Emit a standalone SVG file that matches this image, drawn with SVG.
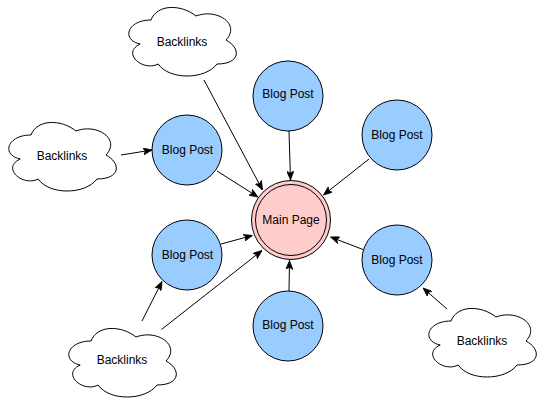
<svg xmlns="http://www.w3.org/2000/svg" xmlns:xlink="http://www.w3.org/1999/xlink" width="543" height="409" viewBox="0 0 543 409">
  <style>
    .cloud { fill: #ffffff; stroke: #000000; stroke-width: 1; }
    .post { fill: #99ccff; stroke: #000000; stroke-width: 1; }
    .main { fill: #ffcccc; stroke: #000000; stroke-width: 1; }
    .lbl { font-family: "Liberation Sans", Arial, Helvetica, sans-serif; font-size: 12px; fill: #000000; text-anchor: middle; }
    .edge { fill: none; stroke: #000000; stroke-width: 1; marker-end: url(#arrow); }
  </style>
  <defs>
    <marker id="arrow" viewBox="0 0 10 8" refX="10" refY="4" markerWidth="9" markerHeight="7.2" markerUnits="userSpaceOnUse" orient="auto">
      <path d="M0,0 L10,4 L0,8 L2.5,4 Z" fill="#000000" stroke="#000000" stroke-width="0.8"/>
    </marker>
    <path id="cloudShape" d="M30,20 C6,20 0,40 19.2,44 C0,52.8 21.6,72 37.2,64 C48,80 84,80 96,64 C120,64 120,48 105,40 C120,24 96,8 75,16 C60,4 36,4 30,20 Z"/>
  </defs>
  <rect x="0" y="0" width="543" height="409" fill="#ffffff"/>

  <g id="connectors">
    <line class="edge" x1="204" y1="80" x2="262.5" y2="190"/>
    <line class="edge" x1="121" y1="155" x2="152" y2="150"/>
    <line class="edge" x1="217" y1="171" x2="258" y2="197"/>
    <line class="edge" x1="289" y1="131" x2="290.5" y2="180"/>
    <line class="edge" x1="369" y1="159" x2="323.5" y2="195"/>
    <line class="edge" x1="221" y1="244" x2="252.5" y2="235.5"/>
    <line class="edge" x1="161.5" y1="329.5" x2="262" y2="250.5"/>
    <line class="edge" x1="142" y1="321" x2="162" y2="281.5"/>
    <line class="edge" x1="363" y1="249.5" x2="330.5" y2="237"/>
    <line class="edge" x1="289" y1="291" x2="289.5" y2="260.5"/>
    <line class="edge" x1="447" y1="309" x2="423" y2="288"/>
  </g>

  <g id="cloud-top">
    <use xlink:href="#cloudShape" href="#cloudShape" class="cloud" x="121" y="0"/>
    <text class="lbl" x="182" y="46">Backlinks</text>
  </g>
  <g id="cloud-left">
    <use xlink:href="#cloudShape" href="#cloudShape" class="cloud" x="1" y="115"/>
    <text class="lbl" x="62" y="160">Backlinks</text>
  </g>
  <g id="cloud-bottom">
    <use xlink:href="#cloudShape" href="#cloudShape" class="cloud" x="61" y="321"/>
    <text class="lbl" x="122" y="364">Backlinks</text>
  </g>
  <g id="cloud-right">
    <use xlink:href="#cloudShape" href="#cloudShape" class="cloud" x="421" y="301"/>
    <text class="lbl" x="482" y="345">Backlinks</text>
  </g>

  <g id="post-top-left">
    <circle class="post" cx="187" cy="150" r="35"/>
    <text class="lbl" x="187.5" y="153.5">Blog Post</text>
  </g>
  <g id="post-top">
    <circle class="post" cx="288" cy="96" r="35"/>
    <text class="lbl" x="288" y="97.5">Blog Post</text>
  </g>
  <g id="post-top-right">
    <circle class="post" cx="397" cy="135" r="35"/>
    <text class="lbl" x="397" y="138.5">Blog Post</text>
  </g>
  <g id="post-bottom-left">
    <circle class="post" cx="187" cy="255" r="35"/>
    <text class="lbl" x="187.5" y="258.5">Blog Post</text>
  </g>
  <g id="post-bottom-right">
    <circle class="post" cx="397" cy="260" r="35"/>
    <text class="lbl" x="397" y="263.5">Blog Post</text>
  </g>
  <g id="post-bottom">
    <circle class="post" cx="288" cy="326" r="35"/>
    <text class="lbl" x="288" y="328.5">Blog Post</text>
  </g>

  <g id="main-page">
    <circle class="main" cx="291" cy="220" r="39.5"/>
    <circle class="main" cx="291" cy="220" r="35.5"/>
    <text class="lbl" x="291" y="223.5">Main Page</text>
  </g>
</svg>
